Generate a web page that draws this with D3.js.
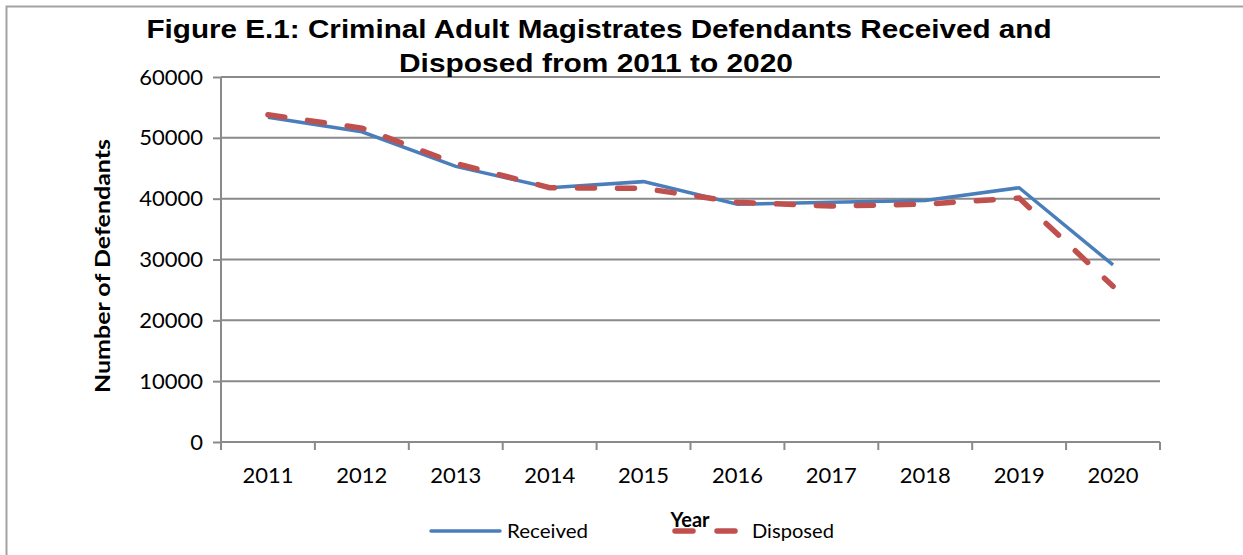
<!DOCTYPE html>
<html>
<head>
<meta charset="utf-8">
<script src="https://cdn.jsdelivr.net/npm/d3@7"></script>
<style>
  body { margin: 0; background: #fff; }
  svg { display: block; }
</style>
</head>
<body>
<svg id="chart" width="1243" height="555"></svg>
<script>
const YEARS = ['2011', '2012', '2013', '2014', '2015', '2016', '2017', '2018', '2019', '2020'];
const RECEIVED = [53400, 51000, 45300, 41800, 42800, 39100, 39400, 39700, 41800, 29100];
const DISPOSED = [53800, 51600, 45800, 41800, 41700, 39400, 38800, 39100, 40100, 25600];
const Y_TICKS = [0, 10000, 20000, 30000, 40000, 50000, 60000];

const TITLE = ['Figure E.1: Criminal Adult Magistrates Defendants Received and',
               'Disposed from 2011 to 2020'];

const svg = d3.select('#chart');
const margin = {left: 221, right: 83, top: 77, bottom: 113};
const W = 1243, H = 555;

// outer frame (only left and top edges visible in the crop)
svg.append('path')
    .attr('d', 'M6.5,555 V6.5 H1243')
    .attr('fill', 'none')
    .attr('stroke', '#a3a3a3')
    .attr('stroke-width', 2);

const x = d3.scaleBand()
    .domain(YEARS)
    .range([margin.left, W - margin.right]);
const y = d3.scaleLinear()
    .domain([0, 60000])
    .range([H - margin.bottom, margin.top]);

const GRID = '#8a8a8a';

// gridlines
svg.append('g')
    .selectAll('line')
    .data(Y_TICKS.filter(d => d > 0))
    .join('line')
    .attr('x1', margin.left)
    .attr('x2', W - margin.right)
    .attr('y1', d => y(d))
    .attr('y2', d => y(d))
    .attr('stroke', GRID)
    .attr('stroke-width', 2);

// y axis
const yAxis = svg.append('g')
    .attr('transform', `translate(${margin.left},0)`)
    .call(d3.axisLeft(y).tickValues(Y_TICKS).tickSize(8).tickPadding(10).tickFormat(d3.format('d')));
yAxis.select('.domain').attr('stroke', GRID).attr('stroke-width', 2).attr('d', `M0,${y(0) + 8}V${y(60000)}`);
yAxis.selectAll('.tick line').attr('stroke', GRID).attr('stroke-width', 2);
yAxis.selectAll('.tick text')
    .attr('font-family', 'Lato, sans-serif')
    .attr('font-size', 22)
    .attr('fill', '#000');

// x axis with ticks on category boundaries
const xAxis = svg.append('g')
    .attr('transform', `translate(0,${y(0)})`);
xAxis.append('line')
    .attr('x1', margin.left)
    .attr('x2', W - margin.right)
    .attr('stroke', GRID)
    .attr('stroke-width', 2);
xAxis.selectAll('line.tk')
    .data(YEARS)
    .join('line')
    .attr('class', 'tk')
    .attr('x1', d => x(d) + x.bandwidth())
    .attr('x2', d => x(d) + x.bandwidth())
    .attr('y1', 0)
    .attr('y2', 8)
    .attr('stroke', GRID)
    .attr('stroke-width', 2);
xAxis.selectAll('text')
    .data(YEARS)
    .join('text')
    .attr('x', d => x(d) + x.bandwidth() / 2)
    .attr('y', 41)
    .attr('text-anchor', 'middle')
    .attr('font-family', 'Lato, sans-serif')
    .attr('font-size', 22)
    .text(d => d);

// lines
const line = d3.line()
    .x((d, i) => x(YEARS[i]) + x.bandwidth() / 2)
    .y(d => y(d));

svg.append('path')
    .datum(RECEIVED)
    .attr('d', line)
    .attr('fill', 'none')
    .attr('stroke', '#4a7ebb')
    .attr('stroke-width', 3.5);

svg.append('path')
    .datum(DISPOSED)
    .attr('d', line)
    .attr('fill', 'none')
    .attr('stroke', '#c0504d')
    .attr('stroke-width', 5.5)
    .attr('stroke-linecap', 'round')
    .attr('stroke-dasharray', '17,23');

// title
const title = svg.append('text')
    .attr('text-anchor', 'middle')
    .attr('font-family', '"Liberation Sans", Arial, sans-serif')
    .attr('font-weight', 'bold')
    .attr('font-size', 25)
    .attr('fill', '#000');
title.append('tspan').attr('x', 599).attr('y', 38).attr('textLength', 905).attr('lengthAdjust', 'spacingAndGlyphs').text(TITLE[0]);
title.append('tspan').attr('x', 596).attr('y', 72).attr('textLength', 394).attr('lengthAdjust', 'spacingAndGlyphs').text(TITLE[1]);

// y axis title
svg.append('text')
    .attr('transform', 'translate(110,266) rotate(-90)')
    .attr('text-anchor', 'middle')
    .attr('font-family', 'Lato, sans-serif')
    .attr('font-weight', 'bold')
    .attr('font-size', 20)
    .attr('textLength', 254)
    .attr('lengthAdjust', 'spacingAndGlyphs')
    .text('Number of Defendants');

// x axis title
svg.append('text')
    .attr('x', 690)
    .attr('y', 527)
    .attr('text-anchor', 'middle')
    .attr('font-family', 'Lato, sans-serif')
    .attr('font-weight', 'bold')
    .attr('font-size', 20)
    .text('Year');

// legend
const legend = svg.append('g').attr('font-family', 'Lato, sans-serif').attr('font-size', 19.5);
legend.append('line')
    .attr('x1', 431).attr('x2', 500).attr('y1', 531).attr('y2', 531)
    .attr('stroke', '#4a7ebb').attr('stroke-width', 3.5).attr('stroke-linecap', 'round');
legend.append('text').attr('x', 507).attr('y', 538).attr('textLength', 81).attr('lengthAdjust', 'spacingAndGlyphs').text('Received');
legend.append('line')
    .attr('x1', 675).attr('x2', 738).attr('y1', 531).attr('y2', 531)
    .attr('stroke', '#c0504d').attr('stroke-width', 5.5).attr('stroke-linecap', 'round')
    .attr('stroke-dasharray', '18,24');
legend.append('text').attr('x', 752).attr('y', 538).attr('textLength', 82).attr('lengthAdjust', 'spacingAndGlyphs').text('Disposed');
</script>
</body>
</html>
